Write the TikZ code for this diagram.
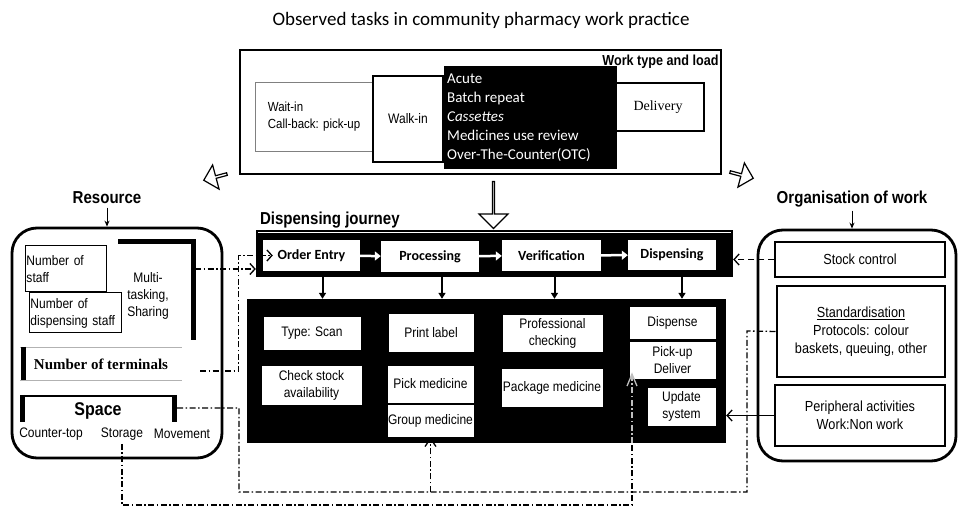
\documentclass[tikz,border=0pt]{standalone}
\usepackage{fontspec}
\setmainfont{Liberation Sans}[FakeStretch=0.87]
\newfontfamily\carlito{Carlito}
\newfontfamily\tnr{Liberation Serif}
\usetikzlibrary{arrows.meta, shapes.arrows, calc}

\begin{document}
\begin{tikzpicture}[x=1pt, y=-1pt,
  task/.style={draw, line width=0.8pt, fill=white, align=center, inner sep=1pt, font=\fontsize{13.8}{17}\selectfont},
  stage/.style={fill=white, inner sep=1pt, font=\carlito\bfseries\fontsize{14}{16}\selectfont},
  heading/.style={font=\bfseries\fontsize{17.3}{19}\selectfont},
  panel/.style={draw, line width=2.8pt, rounded corners=25pt},
  dashdot/.style={line width=1.3pt, dash pattern=on 6pt off 2.5pt on 1.5pt off 2.5pt},
  barb/.style={-{Straight Barb[length=5pt, width=11pt]}},
  hollow/.style={draw, fill=white, line width=1.2pt, single arrow, inner sep=0pt}
]
\useasboundingbox (0,0) rectangle (959,510);

\node[font=\carlito\fontsize{19}{21}\selectfont] (title) at (481,20) {Observed tasks in community pharmacy work practice};

% Work type and load
\node[draw, line width=1.5pt, minimum width=481, minimum height=124] (worktype) at (480.5,112) {};
\node[anchor=north east, inner sep=1pt, font=\bfseries\fontsize{14.5}{16}\selectfont] (wtlbl) at ($(worktype.north east)+(-2,5)$) {Work type and load};
\node[draw=gray, line width=0.8pt, minimum width=118, minimum height=69, align=left, font=\fontsize{13.2}{17}\selectfont] (waitin) at (314,116.5) {Wait-in\\Call-back: pick-up};
\node[draw, line width=1.2pt, minimum width=70, minimum height=86, font=\fontsize{13.8}{16}\selectfont] (walkin) at (408,119) {Walk-in};
\node[draw, line width=1.2pt, minimum width=92, minimum height=48, font=\tnr\fontsize{14}{16}\selectfont] (delivery) at (658,107) {Delivery};
\node[fill=black, minimum width=173, minimum height=103] (worklist) at (530.5,117.5) {};
\node[anchor=west, text=white, align=left, inner sep=0pt, font=\carlito\fontsize{15}{19}\selectfont] (worktypes) at (447,118) {Acute\\Batch repeat\\\textit{Cassettes}\\Medicines use review\\Over-The-Counter(OTC)};

% Hollow arrows
\node[hollow, minimum height=47, minimum width=29, single arrow head extend=9pt, rotate=-90] (down) at (493.5,204.5) {};
\node[hollow, minimum height=24, minimum width=25, single arrow head extend=5pt, rotate=195] (toleft) at (216,177) {};
\node[hollow, minimum height=24, minimum width=25, single arrow head extend=5pt, rotate=-15] (toright) at (741,175) {};

% Dispensing journey
\node[fill=black, minimum width=477, minimum height=47] (journey) at (494.5,253.5) {};
\draw[white, line width=0.8pt] ($(journey.north west)+(2,3)$) -- ($(journey.north east)+(-2,3)$);
\node[heading, anchor=south west, inner sep=1pt] (jlbl) at ($(journey.north west)+(3,0)$) {Dispensing journey};
\node[stage, minimum width=97, minimum height=31] (entry) at (311.5,255.5) {Order Entry};
\node[stage, minimum width=98, minimum height=31] (proc) at (430,256.5) {Processing};
\node[stage, minimum width=99, minimum height=31] (verif) at (551.5,255.5) {Verification};
\node[stage, minimum width=88, minimum height=30] (disp) at (672,255) {Dispensing};
\foreach \a/\b in {entry/proc, proc/verif, verif/disp}
  \draw[white, line width=2.5pt, -{Triangle[length=6pt, width=9pt]}] (\a) -- (\b);

% Tasks
\node[fill=black, minimum width=479, minimum height=144] (tasks) at (486.5,371) {};
\foreach \n/\dx in {entry/11, proc/12, verif/3, disp/10}
  \draw[line width=2pt, -{Triangle[length=6pt, width=7pt]}] ($(\n.south |- journey.south)+(\dx,0)$) -- ($(\n.south |- tasks.north)+(\dx,0)$);
\node[task, minimum width=98, minimum height=34] (scan) at (312,333) {Type: Scan};
\node[task, minimum width=101, minimum height=40] (stock) at (311.5,385) {Check stock\\availability};
\node[task, minimum width=86, minimum height=39] (label) at (431,332.5) {Print label};
\node[task, minimum width=87, minimum height=38] (pick) at (430.5,384) {Pick medicine};
\node[task, minimum width=87, minimum height=33] (group) at (430.5,420.5) {Group medicine};
\node[task, minimum width=101, minimum height=38] (prof) at (552.5,333) {Professional\\checking};
\node[task, minimum width=102, minimum height=39] (pack) at (552,387.5) {Package medicine};
\node[task, minimum width=87, minimum height=33] (dispense) at (672.5,322.5) {Dispense};
\node[task, minimum width=87, minimum height=38] (pickup) at (672.5,360) {Pick-up\\Deliver};
\node[task, minimum width=69, minimum height=39] (update) at (681.5,406.5) {Update\\system};

% Resource
\node[heading] (resource) at (107,198) {Resource};
\node[panel, minimum width=210, minimum height=230] (respanel) at (117,343) {};
\draw[line width=1pt, -{Stealth[length=6pt, width=5pt]}] (resource.south) -- (resource.south |- respanel.north);
\node[task, line width=1pt, align=left, text width=79, minimum height=46] (staff) at (66,269) {Number of\\staff};
\node[task, line width=1pt, align=left, text width=90, minimum height=40] (dispstaff) at (75.5,313) {Number of\\dispensing staff};
\node[align=center, font=\fontsize{13.8}{17}\selectfont] (multi) at (148,296) {Multi-\\tasking,\\Sharing};
\draw[line width=5pt] (118,242) -| (193,340);
\draw[gray!60, line width=0.6pt] (20,347) -- (182,347) (20,380) -- (182,380);
\draw[line width=5pt] (23,347) -- (23,380);
\node[font=\tnr\bfseries\fontsize{15}{17}\selectfont] (terminals) at (101,364) {Number of terminals};
\draw[line width=2.5pt] (22,396) -- (174,396);
\draw[line width=5pt] (22,395) -- (22,422) (174,395) -- (174,422);
\node[font=\bfseries\fontsize{18.4}{20}\selectfont] (space) at (98,411) {Space};
\node[font=\fontsize{13.8}{16}\selectfont] (counter) at (51,434) {Counter-top};
\node[font=\fontsize{13.8}{16}\selectfont] (storage) at (122,434) {Storage};
\node[font=\fontsize{13.8}{16}\selectfont] (movement) at (182,434) {Movement};

% Organisation of work
\node[heading] (orglbl) at (852,199) {Organisation of work};
\node[panel, minimum width=198, minimum height=231] (orgpanel) at (857,345.5) {};
\draw[line width=1pt, -{Stealth[length=6pt, width=5pt]}] (orglbl.south) -- (orglbl.south |- orgpanel.north);
\node[task, line width=1.2pt, font=\fontsize{14.6}{18}\selectfont, minimum width=170, minimum height=35] (stockctl) at (860,259.5) {Stock control};
\node[task, line width=1.2pt, font=\fontsize{14.6}{18}\selectfont, minimum width=168, minimum height=91] (standard) at (861,331.5) {\underline{Standardisation}\\Protocols: colour\\baskets, queuing, other};
\node[task, line width=1.2pt, font=\fontsize{14.6}{18}\selectfont, minimum width=170, minimum height=61] (periph) at (860,415.5) {Peripheral activities\\Work:Non work};

% Connectors
\coordinate (mt) at (195,269);
\draw[dashdot, barb] (mt) -- (journey.west |- mt);
\coordinate (tm) at (200,371);
\draw[dashdot, barb] (tm) -| ($(entry.west)+(-24,0)$) -- ($(entry.west)+(10,0)$);
\coordinate (sp) at (177,408);
\coordinate (lowbend) at (239,492);
\coordinate (rbend) at (747,331);
\draw[dashdot] (sp) -| (lowbend) -| (rbend) -- (standard.west);
\draw[dashdot, -{Straight Barb[length=8pt, width=11pt]}] (group.south |- lowbend) -- (group.south);
\coordinate (botbend) at (632,505);
\draw[dashdot] (storage.south) |- (botbend) -- (botbend |- tasks.south);
\draw[dashdot, gray!50, -{Straight Barb[length=12pt, width=10pt]}] (botbend |- tasks.south) -- ($(botbend |- pickup.south)+(0,-7)$);
\draw[line width=1.3pt, dash pattern=on 6pt off 4pt, barb] (stockctl.west) -- (journey.east |- stockctl.west);
\draw[line width=1.3pt, barb] (periph.west) -- (tasks.east |- periph.west);
\end{tikzpicture}
\end{document}
